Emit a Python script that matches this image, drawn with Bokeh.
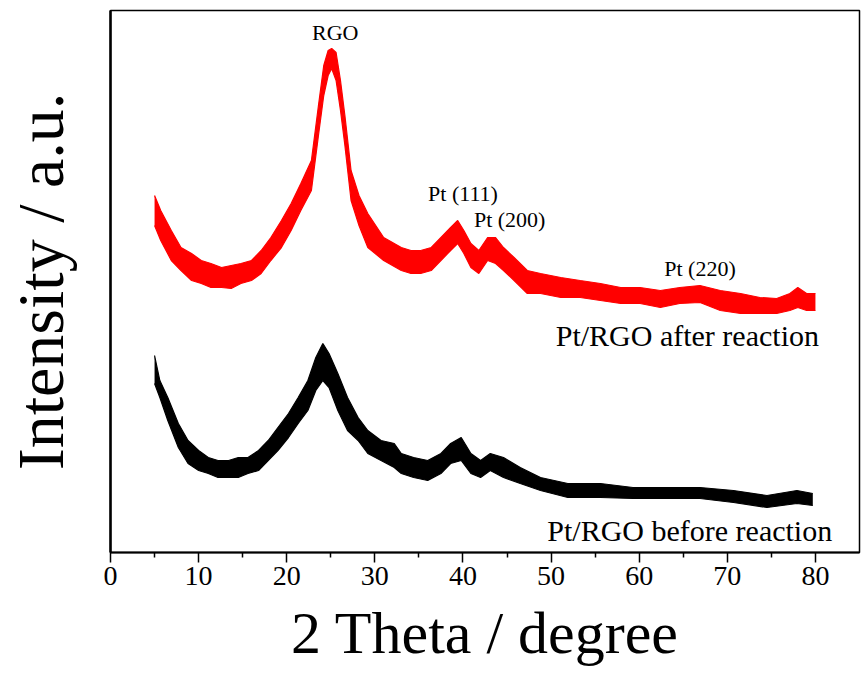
from bokeh.plotting import figure
from bokeh.models import Range1d, FixedTicker, LinearAxis, Label, ColumnDataSource
from bokeh.embed import file_html
from bokeh.resources import INLINE

FONT = "Liberation Serif"

# 2-theta sample positions (degrees) and noise envelopes (a.u.)
after_x = [5.0, 5.7, 6.9, 8.0, 9.2, 10.3, 11.4, 12.6, 13.7, 14.8, 16.0, 17.1, 18.2, 19.4, 20.5,
           21.6, 22.8, 23.6, 24.2, 24.7, 25.1, 25.6, 26.1, 26.6, 27.3, 28.2, 29.2, 31.0, 33.0,
           34.1, 35.2, 36.4, 37.5, 38.6, 39.4, 40.1, 40.9, 41.8, 42.8, 43.7, 44.6, 45.8, 47.3,
           48.8, 51.1, 53.3, 55.6, 57.9, 60.1, 62.4, 64.6, 66.9, 69.2, 71.5, 73.7, 75.6, 77.1,
           78.0, 79.0, 80.0]
after_hi = [357, 342, 322, 305, 299, 292, 289, 285, 287, 289, 292, 302, 315, 332, 349,
            369, 392, 447, 487, 502, 504, 500, 472, 437, 382, 357, 339, 315, 305,
            302, 302, 305, 315, 325, 332, 322, 309, 302, 315, 315, 305, 295, 282,
            279, 275, 272, 269, 265, 265, 262, 265, 267, 262, 259, 255, 254, 259,
            265, 259, 259]
after_lo = [327, 312, 292, 282, 272, 269, 265, 265, 264, 269, 272, 279, 292, 305, 322,
            342, 362, 417, 457, 477, 484, 472, 442, 407, 352, 327, 305, 292, 282,
            279, 279, 282, 292, 302, 309, 299, 285, 279, 292, 289, 282, 272, 259,
            259, 255, 255, 252, 249, 249, 245, 249, 250, 242, 239, 239, 239, 242,
            245, 242, 242]

before_x = [5.0, 5.6, 6.5, 7.7, 8.8, 10.0, 11.1, 12.2, 13.4, 14.5, 15.6, 16.8, 17.9, 19.0,
            20.2, 21.3, 22.4, 23.3, 24.1, 24.8, 25.8, 26.9, 28.1, 29.2, 30.7, 32.2, 33.0,
            34.4, 36.0, 37.5, 38.6, 39.8, 40.9, 42.0, 43.1, 44.6, 46.5, 48.8, 51.9, 55.6,
            59.3, 63.2, 66.9, 70.7, 74.5, 77.9, 79.7]
before_hi = [197, 172, 155, 129, 112, 102, 95, 92, 92, 95, 95, 102, 112, 125,
             139, 155, 172, 195, 209, 199, 179, 155, 135, 122, 112, 109, 99,
             95, 92, 99, 109, 115, 99, 92, 99, 95, 85, 75, 69, 69,
             65, 65, 65, 62, 57, 62, 59]
before_lo = [169, 155, 132, 105, 89, 82, 79, 75, 75, 75, 79, 82, 92, 102,
             115, 129, 142, 162, 172, 165, 142, 122, 112, 99, 92, 85, 79,
             75, 72, 79, 89, 92, 79, 75, 82, 75, 69, 62, 55, 55,
             54, 54, 54, 50, 45, 49, 47]

x_ticks = [0, 10, 20, 30, 40, 50, 60, 70, 80]
x_minor = [5, 15, 25, 35, 45, 55, 65, 75]

peak_labels = ["RGO", "Pt (111)", "Pt (200)", "Pt (220)"]
peak_label_x = [25.5, 40.0, 45.3, 66.9]
peak_label_y = [520, 359, 333, 284]

sample_labels = ["Pt/RGO after reaction", "Pt/RGO before reaction"]
sample_label_x = [80.4, 81.9]
sample_label_y = [217, 22]

p = figure(width=861, height=681, output_backend="svg", toolbar_location=None,
           x_range=Range1d(0, 85), y_range=Range1d(0, 542),
           min_border_left=109, min_border_right=2, min_border_top=10, min_border_bottom=129,
           x_axis_location=None, y_axis_location=None)
p.grid.visible = False
p.outline_line_color = "black"
p.outline_line_width = 1.5
p.background_fill_color = "white"
p.border_fill_color = "white"

# curves as noise ribbons
src_a = ColumnDataSource(dict(x=after_x, lo=after_lo, hi=after_hi))
src_b = ColumnDataSource(dict(x=before_x, lo=before_lo, hi=before_hi))
p.varea(x="x", y1="lo", y2="hi", source=src_a, fill_color="#ff0000")
p.line(x="x", y="lo", source=src_a, line_color="#ff0000", line_width=1.2)
p.line(x="x", y="hi", source=src_a, line_color="#ff0000", line_width=1.2)
p.varea(x="x", y1="lo", y2="hi", source=src_b, fill_color="#000000")
p.line(x="x", y="lo", source=src_b, line_color="#000000", line_width=1.2)
p.line(x="x", y="hi", source=src_b, line_color="#000000", line_width=1.2)

# bottom axis
xa = LinearAxis(ticker=FixedTicker(ticks=x_ticks, minor_ticks=x_minor))
xa.axis_label = "2 Theta / degree"
xa.axis_label_text_font = FONT
xa.axis_label_text_font_size = "60px"
xa.axis_label_text_font_style = "normal"
xa.axis_label_text_color = "black"
xa.axis_label_standoff = 12
xa.major_label_text_font = FONT
xa.major_label_text_font_size = "28px"
xa.major_label_text_color = "black"
xa.major_label_standoff = 4
xa.axis_line_width = 2
xa.major_tick_line_width = 1.5
xa.minor_tick_line_width = 1.5
xa.major_tick_in = 0
xa.major_tick_out = 10
xa.minor_tick_in = 0
xa.minor_tick_out = 5
p.add_layout(xa, "below")

# left axis (no ticks or labels)
ya = LinearAxis(ticker=FixedTicker(ticks=[], minor_ticks=[]))
ya.axis_label = "Intensity / a.u."
ya.axis_label_text_font = FONT
ya.axis_label_text_font_size = "66px"
ya.axis_label_text_font_style = "normal"
ya.axis_label_text_color = "black"
ya.axis_label_standoff = 34
ya.axis_line_width = 2.5
ya.major_tick_in = 0
ya.major_tick_out = 0
p.add_layout(ya, "left")

for t, x, y in zip(peak_labels, peak_label_x, peak_label_y):
    p.add_layout(Label(x=x, y=y, text=t, text_font=FONT, text_font_size="22px",
                       text_align="center", text_baseline="middle", text_color="black"))
for t, x, y in zip(sample_labels, sample_label_x, sample_label_y):
    p.add_layout(Label(x=x, y=y, text=t, text_font=FONT, text_font_size="30px",
                       text_align="right", text_baseline="middle", text_color="black"))

open("out.html", "w").write(file_html(p, INLINE))
